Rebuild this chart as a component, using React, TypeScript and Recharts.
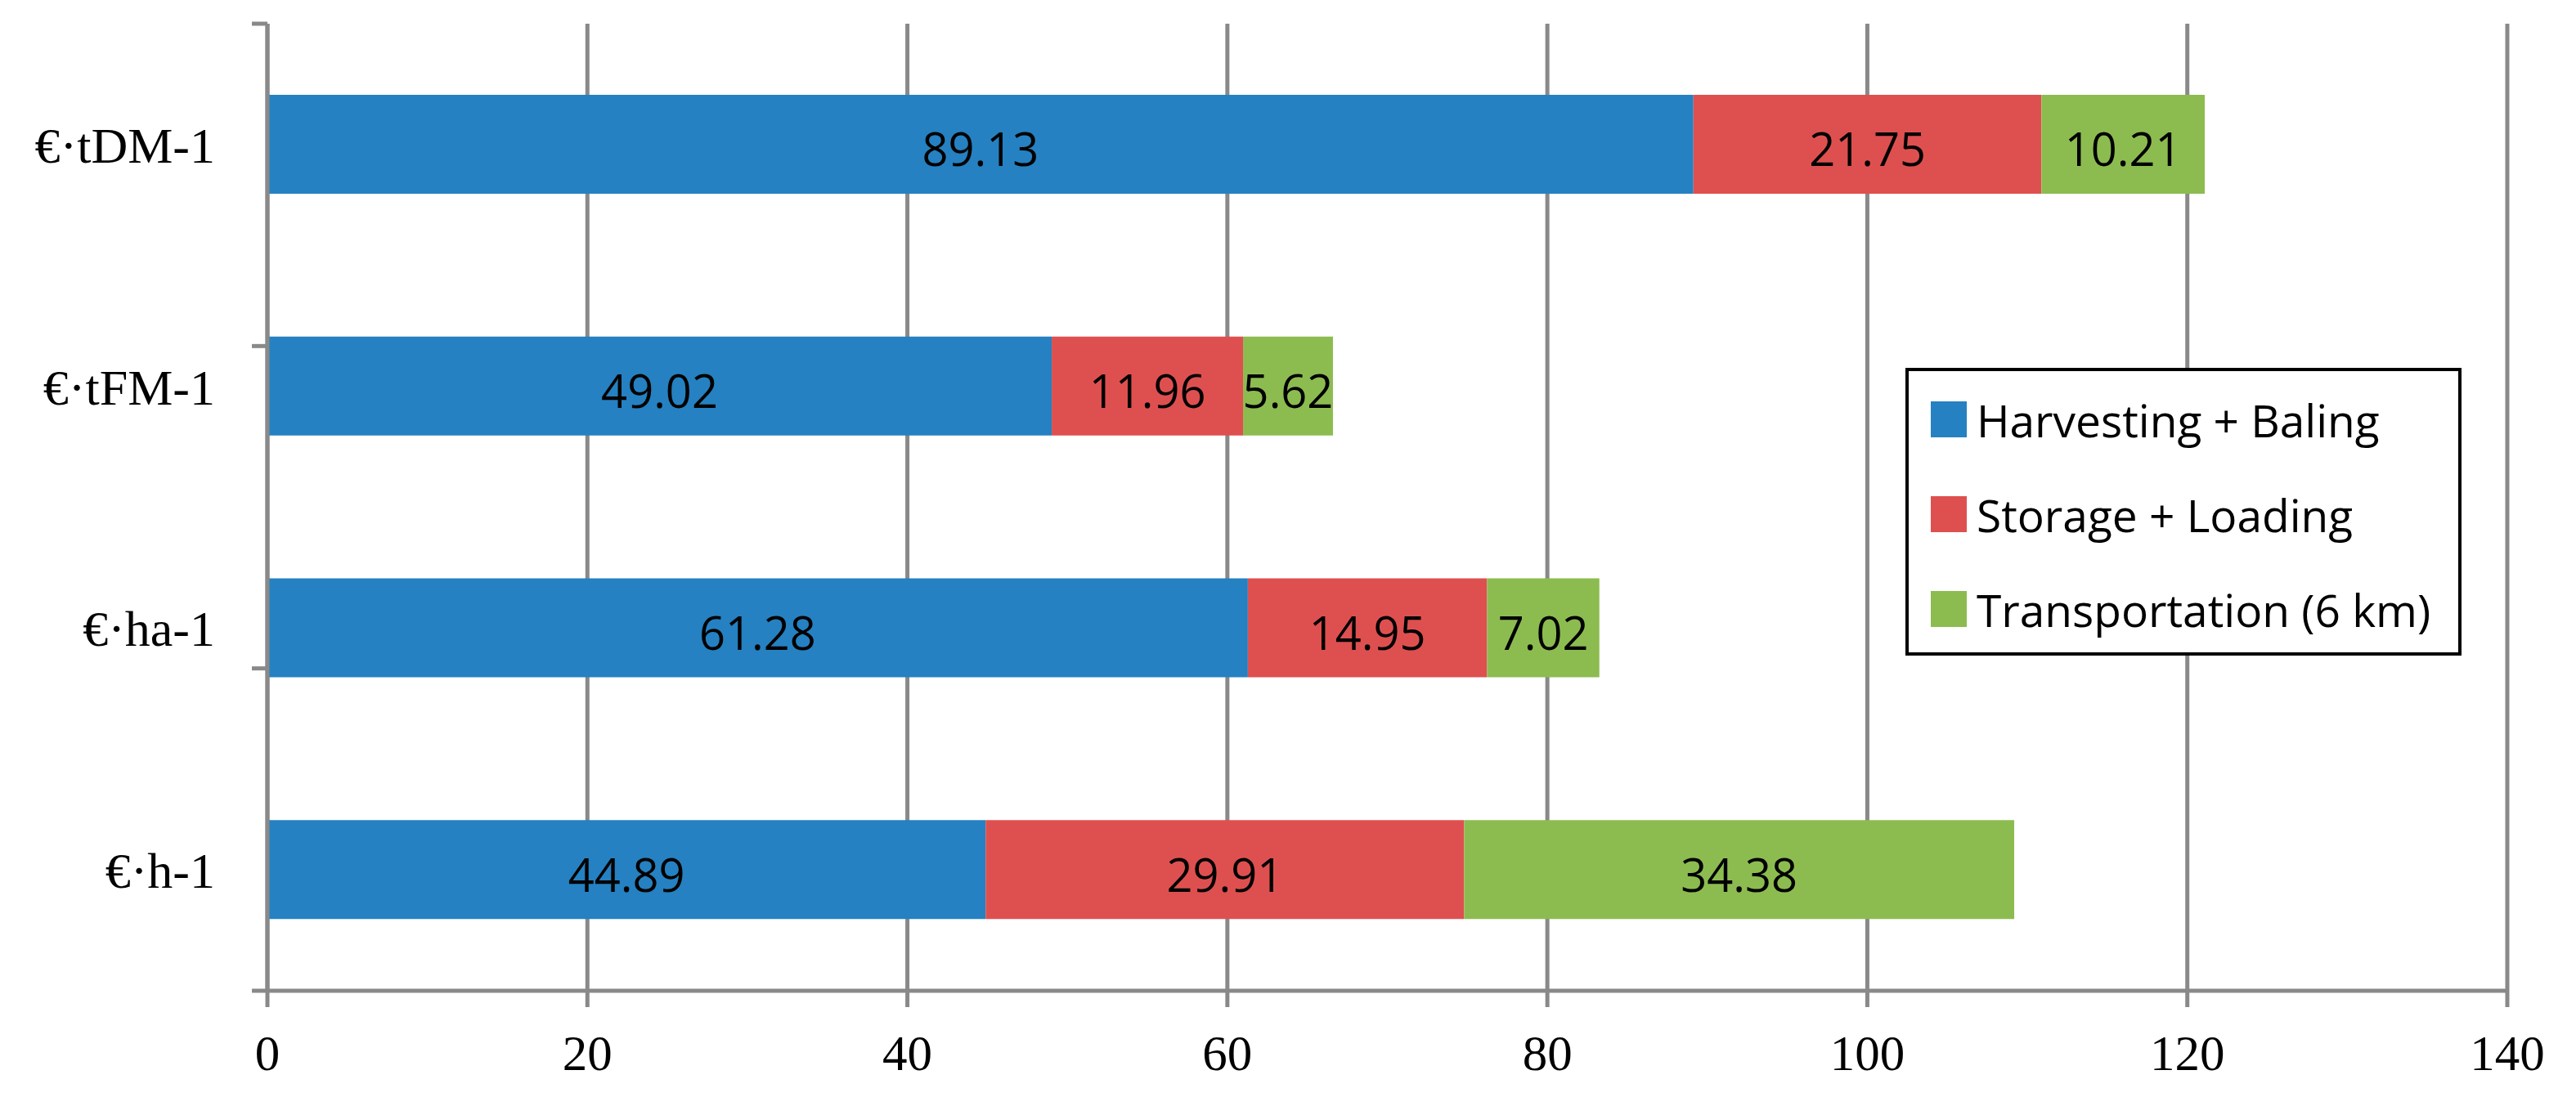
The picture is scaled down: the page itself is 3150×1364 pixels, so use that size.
import React from 'react';
import { BarChart, Bar, XAxis, YAxis, CartesianGrid, Legend, LabelList } from 'recharts';

const categories = ['€·tDM-1', '€·tFM-1', '€·ha-1', '€·h-1'];
const harvestingBaling = [89.13, 49.02, 61.28, 44.89];
const storageLoading = [21.75, 11.96, 14.95, 29.91];
const transportation = [10.21, 5.62, 7.02, 34.38];
const xTicks = [0, 20, 40, 60, 80, 100, 120, 140];
const boundaryTicks = [0, 1, 2, 3, 4];
const seriesKeys = ['hb', 'sl', 'tr'];
const seriesNames = ['Harvesting + Baling', 'Storage + Loading', 'Transportation (6 km)'];
const seriesColors = ['#2581C1', '#DE504F', '#8CBC50'];

const data = categories.map((c, i) => ({
  category: c,
  hb: harvestingBaling[i],
  sl: storageLoading[i],
  tr: transportation[i],
}));

const GRAY = '#898989';
const labelFont = "'Open Sans', sans-serif";
const serif = "'Liberation Serif', 'Times New Roman', serif";

const LegendBox = () => (
  <div
    style={{
      width: 680,
      height: 352,
      border: '4px solid #000',
      boxSizing: 'border-box',
      background: '#fff',
      paddingTop: 1,
    }}
  >
    {seriesNames.map((n, i) => (
      <div key={n} style={{ height: 116, display: 'flex', alignItems: 'center', paddingLeft: 27 }}>
        <div style={{ width: 44, height: 44, background: seriesColors[i], marginRight: 12 }} />
        <span style={{ fontFamily: labelFont, fontSize: 55, color: '#000', whiteSpace: 'pre' }}>{n}</span>
      </div>
    ))}
  </div>
);

const EmptyTick = () => <g />;

export default function App() {
  return (
    <BarChart
      width={3134}
      height={1348}
      data={data}
      layout="vertical"
      margin={{ top: 21, right: 76, bottom: 0, left: 0 }}
      barSize={121}
    >
      <CartesianGrid horizontal={false} vertical stroke={GRAY} strokeWidth={5} yAxisId="b" />
      <XAxis
        type="number"
        domain={[0, 140]}
        ticks={xTicks}
        interval={0}
        height={144}
        axisLine={{ stroke: GRAY, strokeWidth: 5 }}
        tickLine={{ stroke: GRAY, strokeWidth: 5 }}
        tickSize={20}
        tickMargin={34}
        tick={{ fill: '#000', fontFamily: serif, fontSize: 61 }}
      />
      <YAxis
        yAxisId="a"
        type="number"
        domain={[0, 4]}
        ticks={boundaryTicks}
        interval={0}
        width={1}
        axisLine={{ stroke: GRAY, strokeWidth: 5 }}
        tickLine={{ stroke: GRAY, strokeWidth: 5 }}
        tickSize={19}
        tick={<EmptyTick />}
      />
      <YAxis
        yAxisId="b"
        type="category"
        dataKey="category"
        width={318}
        axisLine={false}
        tickLine={false}
        tickSize={0}
        tickMargin={63}
        tick={{ fill: '#000', fontFamily: serif, fontSize: 62 }}
      />
      {seriesKeys.map((k, i) => (
        <Bar
          key={k}
          dataKey={k}
          name={seriesNames[i]}
          stackId="s"
          yAxisId="b"
          fill={seriesColors[i]}
          isAnimationActive={false}
        >
          <LabelList
            dataKey={k}
            position="center"
            fill="#000"
            fontFamily={labelFont}
            fontSize={56}
            dy={7}
            formatter={(v: any) => Number(v).toFixed(2)}
          />
        </Bar>
      ))}
      <Legend
        layout="vertical"
        align="center"
        verticalAlign="middle"
        wrapperStyle={{ left: 2322, top: 442, width: 680, height: 352 }}
        content={() => <LegendBox />}
      />
    </BarChart>
  );
}
